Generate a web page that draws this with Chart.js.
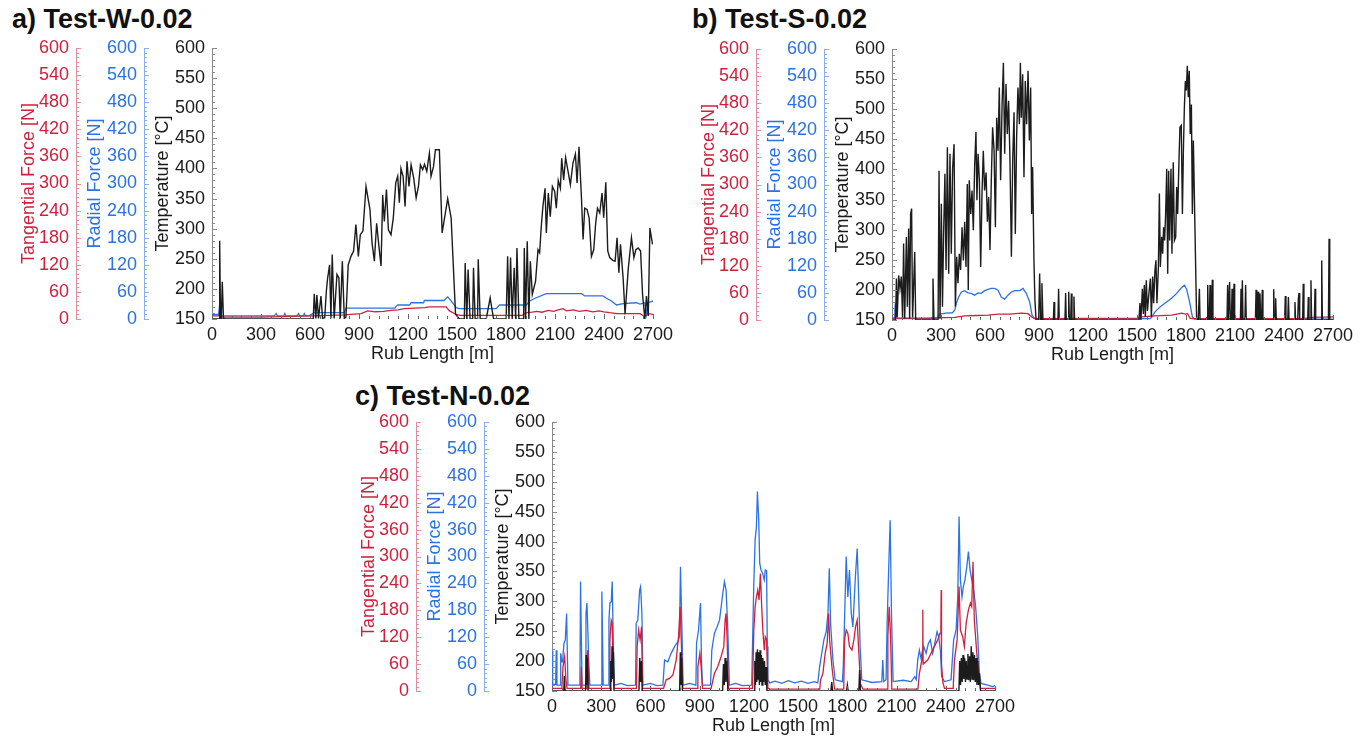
<!DOCTYPE html>
<html>
<head>
<meta charset="utf-8">
<script src="https://cdn.jsdelivr.net/npm/chart.js@4.4.1/dist/chart.umd.min.js"></script>
<style>
  body { margin: 0; background: #fff; width: 1367px; height: 740px; position: relative; overflow: hidden; }
  canvas { position: absolute; }
  .ttl { position: absolute; font: bold 27px 'Liberation Sans', Arial, sans-serif; line-height: 1; color: #111; white-space: nowrap; }
</style>
</head>
<body>
<div class="ttl" style="left:12px;top:6px">a) Test-W-0.02</div>
<div class="ttl" style="left:692px;top:6px">b) Test-S-0.02</div>
<div class="ttl" style="left:355px;top:383px">c) Test-N-0.02</div>
<canvas id="panelW" width="680" height="334" style="left:0;top:36px"></canvas>
<canvas id="panelS" width="687" height="334" style="left:680px;top:37px"></canvas>
<canvas id="panelN" width="680" height="330" style="left:340px;top:410px"></canvas>
<script>
// axis ranges: [min, max, step]
const rubAxis = [0, 2700, 300];
const forceAxis = [0, 600, 60];
const tempAxis = [150, 600, 50];

// Test-W-0.02 : [rub length m, value]
const wTemp = [[0,150],[44,150],[47,280],[52,152],[57,151],[63,212],[70,152],[76,150],[620,150],[626,192],[636,151],[642,190],[652,151],[667,188],[677,151],[690,152],[700,196],[708,218],[720,240],[728,151],[736,257],[748,151],[765,224],[777,218],[785,151],[798,246],[810,151],[820,153],[834,240],[851,254],[867,263],[881,307],[896,254],[908,290],[924,296],[943,370],[953,354],[967,332],[980,276],[994,246],[1008,309],[1023,268],[1035,238],[1045,356],[1055,312],[1068,365],[1080,298],[1096,290],[1110,318],[1125,376],[1137,387],[1147,343],[1157,400],[1170,387],[1182,337],[1194,412],[1206,370],[1219,406],[1235,384],[1250,351],[1264,370],[1276,406],[1290,398],[1301,407],[1315,395],[1331,425],[1341,387],[1356,403],[1368,431],[1392,431],[1409,293],[1443,350],[1464,318],[1491,158],[1515,150],[1545,150],[1550,243],[1560,150],[1568,232],[1580,150],[1596,150],[1601,235],[1611,150],[1626,150],[1630,249],[1642,150],[1679,150],[1703,185],[1724,150],[1801,150],[1810,254],[1818,150],[1828,252],[1838,150],[1850,235],[1859,150],[1867,268],[1879,150],[1908,150],[1912,268],[1920,150],[1930,279],[1940,150],[1949,246],[1961,191],[1981,213],[1996,265],[2006,260],[2016,304],[2026,337],[2039,367],[2047,293],[2059,359],[2071,320],[2084,370],[2098,362],[2108,334],[2120,380],[2133,367],[2141,417],[2153,381],[2165,418],[2180,395],[2194,373],[2210,409],[2225,424],[2235,376],[2247,436],[2262,351],[2272,282],[2282,334],[2296,332],[2309,318],[2323,254],[2337,265],[2349,309],[2360,334],[2374,326],[2388,359],[2398,318],[2411,377],[2423,263],[2435,252],[2456,247],[2468,246],[2480,285],[2491,227],[2501,274],[2517,218],[2529,158],[2548,232],[2568,285],[2583,252],[2595,265],[2609,268],[2624,263],[2636,191],[2650,150],[2660,188],[2671,155],[2681,301],[2697,274]];
const wTang = [[0,7],[40,7],[47,12],[55,4],[300,4],[620,7],[810,9],[912,12],[953,18],[1000,16],[1050,17],[1096,19],[1140,20],[1178,23],[1240,24],[1301,25],[1331,27],[1433,27],[1454,18],[1495,10],[1520,8],[1900,8],[1924,14],[1960,15],[1990,17],[2020,15],[2060,19],[2090,17],[2120,20],[2149,23],[2170,18],[2210,20],[2250,17],[2290,19],[2330,16],[2370,18],[2400,16],[2435,14],[2480,12],[2620,12],[2650,5],[2670,12],[2700,10]];
const wRad = [[0,10],[40,10],[47,32],[53,12],[60,7],[150,7],[380,7],[393,12],[400,7],[440,7],[446,12],[452,7],[520,7],[530,12],[537,7],[560,7],[565,12],[572,7],[600,8],[626,14],[810,14],[820,24],[1120,24],[1128,28],[1137,31],[1210,31],[1219,36],[1295,36],[1301,41],[1420,41],[1443,49],[1464,40],[1495,25],[1515,23],[1740,23],[1760,31],[1924,31],[1945,40],[1985,47],[2047,56],[2262,56],[2282,51],[2394,51],[2415,46],[2446,40],[2476,31],[2517,34],[2599,36],[2620,33],[2650,36],[2660,10],[2670,36],[2700,40]];

// Test-S-0.02
const sTemp = [[0,150],[22,150],[27,219],[32,155],[41,224],[49,202],[57,222],[65,152],[71,277],[78,152],[88,288],[94,172],[102,302],[108,152],[114,326],[120,335],[126,152],[139,263],[145,150],[246,150],[251,219],[257,150],[282,150],[288,398],[294,152],[302,343],[309,172],[316,293],[324,393],[331,233],[339,437],[347,227],[355,426],[363,260],[371,401],[380,442],[388,172],[396,255],[404,211],[412,260],[420,233],[429,304],[437,249],[445,313],[453,238],[461,376],[467,200],[473,382],[482,326],[490,365],[498,299],[506,406],[514,462],[520,349],[527,426],[535,382],[543,238],[551,360],[559,431],[567,365],[576,395],[584,313],[592,354],[600,266],[608,382],[616,470],[625,431],[633,304],[641,486],[649,431],[657,536],[665,382],[674,508],[682,577],[690,426],[698,542],[706,459],[714,514],[722,420],[731,255],[739,415],[747,495],[755,293],[763,453],[771,536],[780,475],[786,577],[792,486],[800,558],[808,387],[816,547],[824,475],[833,564],[841,448],[849,536],[855,326],[861,404],[869,249],[875,183],[882,150],[898,150],[904,227],[910,150],[914,150],[918,211],[924,150],[988,150],[992,180],[996,150],[1016,150],[1020,202],[1024,150],[1059,150],[1063,195],[1067,150],[1078,150],[1082,197],[1086,150],[1094,150],[1098,194],[1102,150],[1110,150],[1114,189],[1118,150],[1512,150],[1518,178],[1524,150],[1533,202],[1539,160],[1545,208],[1551,155],[1557,216],[1564,165],[1573,194],[1582,219],[1588,155],[1596,222],[1602,178],[1610,233],[1616,249],[1622,178],[1631,238],[1637,360],[1643,238],[1651,288],[1657,260],[1663,304],[1669,282],[1675,324],[1682,401],[1688,227],[1694,398],[1700,282],[1708,401],[1714,260],[1722,412],[1729,282],[1737,288],[1743,371],[1749,326],[1757,415],[1763,470],[1771,473],[1778,326],[1784,431],[1790,503],[1796,547],[1802,531],[1808,572],[1814,520],[1820,564],[1826,459],[1833,508],[1839,326],[1845,448],[1865,152],[1875,150],[1879,150],[1882,202],[1886,150],[1929,150],[1933,208],[1937,150],[1943,150],[1947,208],[1951,150],[1957,150],[1961,217],[1965,150],[2051,150],[2055,208],[2059,150],[2063,150],[2067,213],[2071,150],[2078,150],[2082,202],[2086,150],[2090,150],[2094,210],[2098,150],[2133,150],[2137,202],[2141,150],[2145,216],[2149,150],[2161,150],[2165,208],[2169,150],[2225,150],[2229,200],[2233,150],[2237,150],[2241,197],[2245,150],[2249,150],[2253,194],[2257,150],[2263,150],[2267,200],[2271,150],[2333,150],[2337,201],[2341,150],[2345,150],[2349,186],[2353,150],[2404,150],[2408,190],[2412,150],[2423,150],[2427,188],[2431,150],[2463,150],[2467,180],[2471,150],[2484,150],[2488,186],[2492,195],[2496,150],[2514,150],[2518,210],[2522,150],[2545,150],[2549,188],[2553,150],[2561,150],[2565,216],[2569,150],[2586,150],[2590,202],[2594,150],[2627,150],[2631,249],[2635,150],[2672,150],[2676,285],[2680,150],[2700,150]];
const sTang = [[0,4],[200,4],[384,6],[445,9],[520,10],[588,11],[650,13],[720,13],[792,15],[833,14],[857,6],[874,3],[1500,4],[1528,7],[1610,9],[1712,11],[1773,15],[1795,13],[1810,14],[1824,4],[1840,3],[2520,3],[2570,6],[2700,7]];
const sRad = [[0,3],[15,3],[20,37],[26,7],[35,3],[270,3],[280,6],[292,13],[330,15],[370,16],[384,22],[394,37],[408,51],[425,62],[445,65],[465,60],[485,59],[506,55],[527,60],[547,59],[567,65],[588,68],[608,70],[628,70],[649,66],[669,51],[690,46],[710,55],[731,62],[751,65],[782,65],[802,70],[822,59],[843,40],[857,11],[874,3],[1580,3],[1590,6],[1610,18],[1641,29],[1671,37],[1712,48],[1743,59],[1773,72],[1790,77],[1804,68],[1824,37],[1839,7],[1851,2],[2700,2]];

// Test-N-0.02
const nTemp = [[0,150],[72,150],[75,175],[80,150],[205,150],[208,210],[212,160],[216,205],[220,150],[355,150],[358,200],[362,165],[366,225],[370,170],[374,215],[378,150],[530,150],[535,205],[540,165],[545,200],[550,150],[778,150],[782,215],[786,160],[790,205],[795,150],[1040,150],[1045,195],[1050,160],[1055,205],[1060,165],[1066,200],[1072,150],[1232,150],[1236,200],[1240,160],[1244,215],[1248,165],[1252,220],[1256,170],[1260,215],[1264,160],[1268,218],[1272,165],[1276,210],[1280,160],[1285,205],[1290,165],[1295,200],[1300,160],[1305,190],[1310,150],[1700,150],[1705,165],[1710,150],[1795,150],[1800,160],[1805,150],[1870,150],[1875,185],[1880,150],[2480,150],[2485,200],[2490,160],[2495,205],[2500,165],[2505,210],[2510,170],[2515,205],[2520,165],[2525,200],[2530,170],[2535,212],[2540,168],[2545,208],[2550,165],[2555,225],[2560,170],[2565,215],[2570,168],[2575,210],[2580,165],[2585,205],[2590,160],[2595,200],[2600,160],[2605,180],[2612,150],[2700,150]];
const nTang = [[0,6],[60,6],[67,54],[77,77],[85,25],[92,6],[175,6],[179,54],[183,6],[209,6],[213,77],[219,91],[225,6],[349,6],[353,114],[361,158],[367,151],[373,54],[379,6],[515,6],[519,99],[528,136],[537,114],[546,143],[552,6],[680,6],[696,25],[716,28],[737,36],[757,69],[771,121],[781,188],[787,121],[797,6],[885,6],[889,54],[901,84],[909,54],[917,6],[970,6],[990,39],[1010,54],[1031,77],[1047,99],[1055,158],[1061,173],[1067,121],[1075,6],[1222,6],[1230,136],[1238,188],[1246,210],[1254,225],[1262,203],[1270,262],[1278,188],[1286,129],[1294,91],[1300,121],[1308,115],[1316,6],[1330,4],[1632,4],[1637,25],[1651,39],[1665,84],[1677,106],[1686,173],[1692,114],[1706,54],[1722,4],[1778,4],[1783,114],[1793,136],[1803,129],[1813,99],[1828,91],[1840,114],[1850,143],[1860,158],[1868,99],[1880,17],[1895,4],[2043,4],[2047,121],[2055,188],[2063,129],[2071,4],[2230,4],[2239,39],[2254,69],[2258,90],[2260,181],[2262,60],[2290,69],[2310,84],[2330,99],[2351,114],[2365,129],[2370,140],[2372,225],[2374,60],[2382,20],[2392,6],[2445,6],[2453,69],[2469,114],[2481,233],[2489,136],[2503,121],[2513,99],[2524,151],[2538,181],[2550,196],[2558,188],[2566,288],[2574,158],[2586,99],[2599,39],[2611,6],[2700,6]];
const nRad = [[0,90],[4,15],[22,15],[26,91],[30,13],[50,13],[53,84],[61,65],[67,80],[73,106],[81,114],[89,173],[97,13],[170,13],[174,244],[183,13],[203,13],[207,173],[213,196],[219,129],[225,54],[231,13],[300,13],[304,222],[312,13],[343,13],[347,158],[353,196],[361,199],[367,244],[373,114],[381,13],[420,17],[460,12],[509,13],[513,151],[523,158],[534,225],[540,233],[548,173],[554,13],[600,17],[640,12],[676,13],[686,69],[706,65],[726,84],[747,99],[767,110],[777,121],[783,277],[791,151],[799,13],[840,17],[877,13],[881,106],[893,136],[905,196],[911,69],[917,13],[966,13],[974,91],[990,129],[1006,143],[1021,158],[1031,188],[1041,218],[1051,244],[1061,225],[1071,143],[1081,13],[1120,17],[1160,12],[1217,13],[1230,240],[1238,337],[1246,367],[1252,445],[1260,381],[1266,285],[1274,270],[1284,262],[1294,248],[1300,270],[1308,268],[1312,100],[1316,25],[1327,18],[1360,22],[1400,17],[1440,23],[1480,18],[1520,22],[1560,17],[1600,21],[1620,18],[1631,54],[1641,77],[1657,114],[1671,132],[1682,173],[1690,274],[1698,151],[1712,69],[1726,25],[1770,21],[1775,54],[1783,158],[1793,300],[1803,210],[1813,270],[1824,173],[1834,143],[1848,248],[1860,318],[1868,225],[1878,99],[1888,25],[1950,19],[2010,21],[2016,69],[2022,21],[2036,25],[2043,158],[2053,285],[2061,381],[2069,173],[2079,21],[2140,24],[2190,21],[2210,32],[2220,25],[2229,69],[2239,91],[2249,73],[2266,99],[2280,84],[2294,106],[2306,114],[2320,84],[2333,106],[2347,132],[2357,121],[2367,91],[2375,32],[2392,21],[2432,25],[2448,114],[2463,136],[2473,210],[2481,389],[2489,248],[2499,210],[2507,233],[2517,248],[2528,277],[2538,311],[2548,270],[2558,248],[2570,225],[2582,188],[2595,121],[2605,39],[2615,17],[2655,13],[2686,10],[2700,12]];

const RED = '#d0203d';
const BLUE = '#2b72e4';
const BLACK = '#1c1c1c';
const TEXT = '#1a1a1a';

Chart.defaults.font.family = "'Liberation Sans', Arial, sans-serif";
Chart.defaults.font.size = 18;
Chart.defaults.color = TEXT;

const toXY = pts => pts.map(p => ({ x: p[0], y: p[1] }));

// short inward tick marks along each axis (minor + major)
const minorTicks = {
  id: 'minorTicks',
  afterDraw(chart, args, opts) {
    const ctx = chart.ctx;
    const area = chart.chartArea;
    ctx.save();
    ctx.lineWidth = 1;
    opts.axes.forEach(a => {
      const s = chart.scales[a.id];
      ctx.strokeStyle = a.color;
      ctx.beginPath();
      for (let v = s.min; v <= s.max + 1e-6; v += a.minor) {
        const k = (v - s.min) / a.major;
        const len = Math.abs(k - Math.round(k)) < 1e-6 ? a.majorLen : a.minorLen;
        if (s.isHorizontal()) {
          const x = Math.round(s.getPixelForValue(v)) + 0.5;
          ctx.moveTo(x, area.bottom);
          ctx.lineTo(x, area.bottom - len);
        } else {
          const y = Math.round(s.getPixelForValue(v)) + 0.5;
          ctx.moveTo(s.right, y);
          ctx.lineTo(s.right + len, y);
        }
      }
      ctx.stroke();
    });
    ctx.restore();
  }
};

function yAxis(title, color, lineColor, range, width, weight) {
  return {
    type: 'linear',
    position: 'left',
    weight: weight,
    min: range[0],
    max: range[1],
    ticks: { stepSize: range[2], color: color, padding: 7, autoSkip: false, callback: v => String(v) },
    grid: { display: false, drawTicks: false },
    border: { display: true, color: lineColor, width: 1 },
    title: { display: true, text: title, color: color, padding: { top: 8, bottom: 0 } },
    afterFit(s) { s.width = width; s.paddingTop = 0; s.paddingBottom = 0; }
  };
}

function buildPanel(id, temp, tang, rad, pad) {
  new Chart(document.getElementById(id), {
    type: 'line',
    data: {
      datasets: [
        { label: 'Temperature', data: toXY(temp), yAxisID: 'yTemp', borderColor: BLACK, borderWidth: 1.4 },
        { label: 'Tangential Force', data: toXY(tang), yAxisID: 'yTan', borderColor: RED, borderWidth: 1.3 },
        { label: 'Radial Force', data: toXY(rad), yAxisID: 'yRad', borderColor: BLUE, borderWidth: 1.3 }
      ]
    },
    options: {
      responsive: false,
      animation: false,
      devicePixelRatio: 1,
      layout: { padding: pad },
      elements: { point: { radius: 0 }, line: { tension: 0, fill: false } },
      scales: {
        x: {
          type: 'linear',
          min: rubAxis[0],
          max: rubAxis[1],
          ticks: { stepSize: rubAxis[2], autoSkip: false, maxRotation: 0, padding: 5, color: TEXT, callback: v => String(v) },
          grid: { display: false, drawTicks: false },
          border: { display: false },
          title: { display: true, text: 'Rub Length [m]', color: TEXT, padding: { top: 0, bottom: 2 } },
          afterFit(s) { s.height = 48; s.paddingLeft = 0; s.paddingRight = 0; }
        },
        yTemp: yAxis('Temperature [°C]', TEXT, '#8a8a8a', tempAxis, 68, 1),
        yRad: yAxis('Radial Force [N]', BLUE, '#86aef0', forceAxis, 68, 2),
        yTan: yAxis('Tangential Force [N]', RED, '#e58c9c', forceAxis, 66, 3)
      },
      plugins: {
        legend: { display: false },
        tooltip: { enabled: false },
        minorTicks: {
          axes: [
            { id: 'yTan', minor: 10, major: 60, minorLen: 3, majorLen: 5, color: '#e58c9c' },
            { id: 'yRad', minor: 10, major: 60, minorLen: 3, majorLen: 5, color: '#86aef0' },
            { id: 'yTemp', minor: 10, major: 50, minorLen: 3, majorLen: 5, color: '#8a8a8a' },
            { id: 'x', minor: 60, major: 300, minorLen: 3, majorLen: 5, color: '#666' }
          ]
        }
      }
    },
    plugins: [minorTicks]
  });
}

buildPanel('panelW', wTemp, wTang, wRad, { left: 10, top: 12, right: 27, bottom: 3 });
buildPanel('panelS', sTemp, sTang, sRad, { left: 10, top: 12, right: 34, bottom: 3 });
buildPanel('panelN', nTemp, nTang, nRad, { left: 10, top: 12, right: 25, bottom: 1 });
</script>
</body>
</html>
